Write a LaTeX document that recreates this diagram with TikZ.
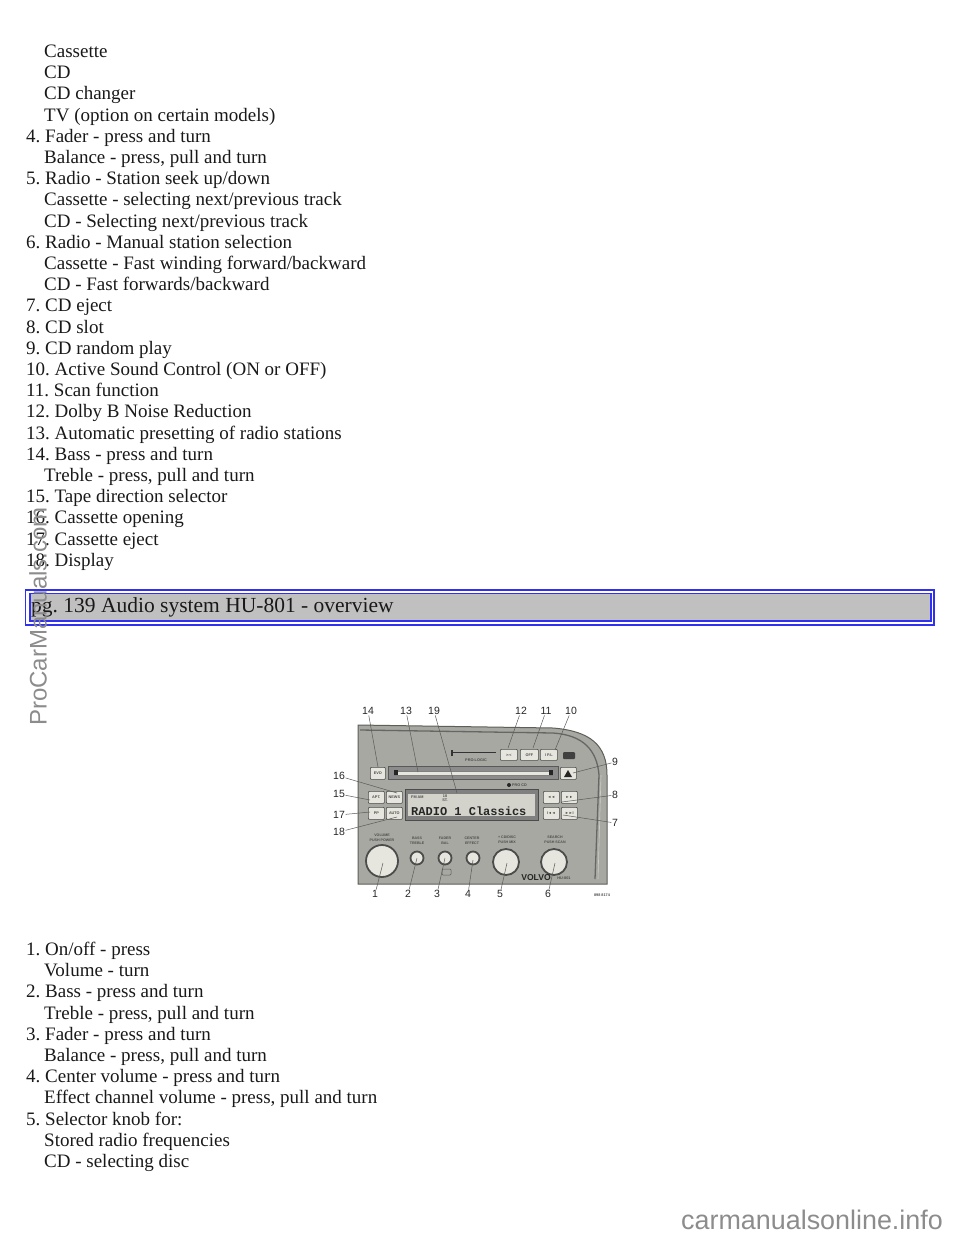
\documentclass[tikz,border=0pt]{standalone}
\usepackage{fontspec}
\setmainfont{Liberation Serif}
\setsansfont{Liberation Sans}
\setmonofont{Liberation Mono}
\usepackage{tikz}
\frenchspacing
\definecolor{framblue}{HTML}{3030F0}
\definecolor{headgray}{HTML}{C0C0C0}
\definecolor{panelgray}{HTML}{A8A8A2}
\definecolor{panelrim}{HTML}{5E5E5A}
\definecolor{btnface}{HTML}{E6E6DE}
\definecolor{markgray}{HTML}{8C8C8C}
\tikzset{
    pageline/.style={anchor=base west, inner sep=0pt, font=\fontsize{19}{19}\selectfont, text=black!90},
    calllabel/.style={font=\sffamily\fontsize{10.5}{10.5}\selectfont, text=black!85, inner sep=0.5pt},
    leader/.style={draw=black!65, line width=0.5pt},
    btn/.style={draw=black!70, fill=btnface, line width=0.7pt, rounded corners=0.8pt},
    btntext/.style={font=\sffamily\bfseries\fontsize{3.8}{3.8}\selectfont, text=black!70, inner sep=0pt},
    knobtext/.style={font=\sffamily\bfseries\fontsize{3.6}{4.6}\selectfont, text=black!70, inner sep=0pt, align=center}
}
\begin{document}
\begin{tikzpicture}[x=1pt,y=-1pt]
    \useasboundingbox (0,0) rectangle (960,1242);

    \foreach \tx/\txt [count=\i] in {44/{Cassette},44/{CD},44/{CD changer},44/{TV (option on certain models)},
        26/{4. Fader - press and turn},44/{Balance - press, pull and turn},
        26/{5. Radio - Station seek up/down},44/{Cassette - selecting next/previous track},44/{CD - Selecting next/previous track},
        26/{6. Radio - Manual station selection},44/{Cassette - Fast winding forward/backward},44/{CD - Fast forwards/backward},
        26/{7. CD eject},26/{8. CD slot},26/{9. CD random play},26/{10. Active Sound Control (ON or OFF)},
        26/{11. Scan function},26/{12. Dolby B Noise Reduction},26/{13. Automatic presetting of radio stations},
        26/{14. Bass - press and turn},44/{Treble - press, pull and turn},26/{15. Tape direction selector},
        26/{16. Cassette opening},26/{17. Cassette eject},26/{18. Display}}
        \node[pageline] (top\i) at (\tx,{57.5+(\i-1)*21.2}) {\txt};

    \draw[framblue, line width=1.2pt] (25.5,590) rectangle (934,625);
    \draw[framblue, line width=1.2pt, fill=headgray] (30,593.5) rectangle (931,621);
    \node[pageline, font=\fontsize{21.5}{21.5}\selectfont] (head) at (31,612) {pg. 139 Audio system HU-801 - overview};

    \foreach \tx/\txt [count=\i] in {26/{1. On/off - press},44/{Volume - turn},26/{2. Bass - press and turn},
        44/{Treble - press, pull and turn},26/{3. Fader - press and turn},44/{Balance - press, pull and turn},
        26/{4. Center volume - press and turn},44/{Effect channel volume - press, pull and turn},
        26/{5. Selector knob for:},44/{Stored radio frequencies},44/{CD - selecting disc}}
        \node[pageline] (low\i) at (\tx,{955.5+(\i-1)*21.2}) {\txt};

    \draw[panelrim, fill=panelgray, line width=1pt] (358,725) -- (553,728) .. controls (590,731) and (607,745) .. (607,775) -- (607,884) -- (358,884) -- cycle;
    \draw[black!60, line width=1.3pt] (360,730) -- (553,733) .. controls (583,735) and (597,750) .. (599,775) -- (595,879);
    \draw[btnface!60!panelgray, line width=0.6pt] (601,775) -- (598,879);

    \draw[black!65, fill=black!45, line width=0.6pt] (388,766) rectangle (558,779);
    \draw[black!50, fill=btnface, line width=0.4pt] (394,771) rectangle (552,775);
    \fill[black!85] (394,770) rectangle (398,775);
    \fill[black!85] (549,770) rectangle (553,775);

    \foreach \bx/\by/\bw/\bh/\btxt [count=\i] in {370/767/15/12/{EVD},368/791/16/12/{APT.},386/791/16/12/{NEWS},368/807/16/12/{PP},386/807/16/12/{AUTO},
        500/749/17/11/{>-<},520/749/18/11/{OFF},540/749/17/11/{I P.L},
        543/791/16/12/{◄◄},561/791/16/12/{►►},543/807/16/12/{I◄◄},561/807/16/12/{►►I}}
        \node[btn, btntext, minimum width=\bw pt, minimum height=\bh pt, anchor=north west] (btn\i) at (\bx,\by) {\btxt};
    \node[btn, minimum width=16pt, minimum height=12pt, anchor=north west, inner sep=0pt] (ejectbtn) at (560,767) {};
    \fill[black!85] (564,777) -- (568,770) -- (572,777) -- cycle;
    \fill[black!75, rounded corners=1pt] (563,752) rectangle (575,759);

    \draw[black!80, line width=1pt] (452,752) -- (496,752);
    \draw[black!80, line width=2pt] (452,750) -- (452,756);
    \node[btntext] (prologic) at (476,760) {PRO-LOGIC};
    \fill[black!85] (509,785) circle (2pt);
    \node[btntext, anchor=west] (procd) at (512,785) {PRO CD};

    \draw[black!70, fill=black!50, line width=0.8pt] (405,789) rectangle (538,820);
    \fill[btnface!70!panelgray] (408,794) rectangle (535,816);
    \node[btntext, anchor=west] (dispband) at (411,797) {FM AM};
    \node[btntext, align=center] (dispst) at (445,798) {18\\ST.};
    \node[font=\ttfamily\bfseries\fontsize{12}{12}\selectfont, text=black!85, inner sep=0pt, anchor=base west] (disptext) at (411,815) {RADIO 1  Classics};

    \foreach \kx/\ky/\kr/\kn in {382/861/16/knobone,417/858/6.5/knobtwo,445/858/6.5/knobthree,473/858/6.5/knobfour,506/862/13/knobfive,554/862/13/knobsix}{
        \draw[black!70, fill=btnface, line width=1.8pt] (\kx,\ky) circle (\kr pt);
        \coordinate (\kn) at (\kx,\ky);
    }
    \draw[black!65, line width=0.5pt, rounded corners=1pt] (442,869) rectangle (451,875);

    \foreach \kx/\ky/\ktxt [count=\i] in {382/838/{VOLUME\\PUSH POWER},417/841/{BASS\\TREBLE},445/841/{FADER\\BAL},472/841/{CENTER\\EFFECT},507/840/{+ CD/DISC\\PUSH MIX},555/840/{SEARCH\\PUSH SCAN}}
        \node[knobtext] (knobtext\i) at (\kx,\ky) {\ktxt};
    \node[font=\sffamily\bfseries\fontsize{8.6}{8.6}\selectfont, text=black!85, inner sep=0pt] (volvo) at (536,878) {VOLVO};
    \node[btntext] (hulabel) at (564,878) {HU-801};
    \node[btntext] (stamp) at (602,895) {898 8174};

    \foreach \lname/\lx/\ly/\ex/\ey in {14/368/711/378/767,13/406/711/418/772,19/434/711/457/793,12/521/711/508/748,11/546/711/533/748,10/571/711/555/750,
        9/615/762/573/773,8/615/795/562/802,7/615/823/563/815,16/339/776/397/793,15/339/794/370/800,17/339/815/370/812,18/339/832/397/817,
        1/375/894/383/863,2/408/894/417/858,3/437/894/445/858,4/468/894/473/860,5/500/894/507/863,6/548/894/555/863}{
        \node[calllabel] (call\lname) at (\lx,\ly) {\lname};
        \coordinate (end\lname) at (\ex,\ey);
        \draw[leader] (call\lname) -- (end\lname);
    }

    \node[rotate=90, anchor=base west, inner sep=0pt, font=\sffamily\fontsize{24}{24}\selectfont, text=markgray] (sidemark) at (46.5,726) {ProCarManuals.com};
    \node[anchor=base west, inner sep=0pt, font=\sffamily\fontsize{26.9}{26.9}\selectfont, text=markgray] (footmark) at (681,1229) {carmanualsonline.info};
\end{tikzpicture}
\end{document}
